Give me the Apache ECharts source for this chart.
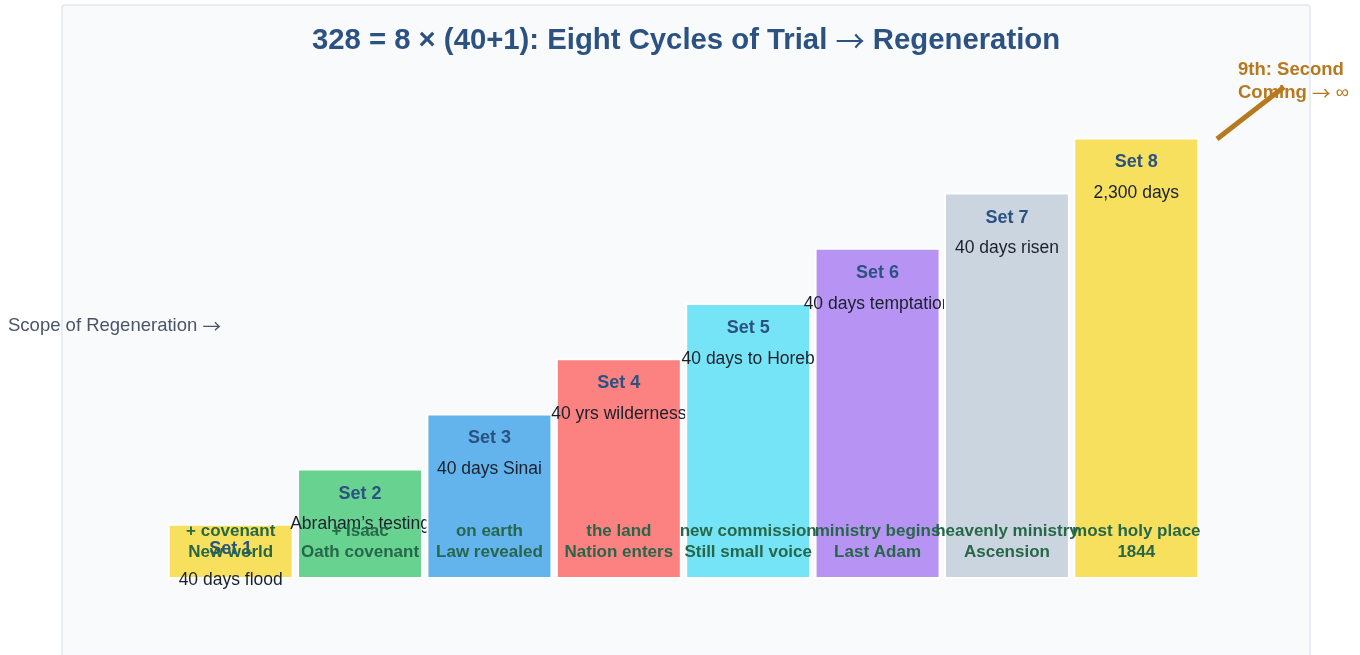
<!DOCTYPE html>
<html>
<head>
<meta charset="utf-8">
<script src="https://cdn.jsdelivr.net/npm/echarts@6/dist/echarts.min.js"></script>
<style>
html,body{margin:0;padding:0;background:#ffffff;}
#chart{width:1360px;height:655px;}
</style>
</head>
<body>
<div id="chart"></div>
<script>
// ---- data ----
const categories = ['Set 1','Set 2','Set 3','Set 4','Set 5','Set 6','Set 7','Set 8'];
const scope = [41, 82, 123, 164, 205, 246, 287, 328];
const trials = ['40 days flood','Abraham\u2019s testing','40 days Sinai','40 yrs wilderness','40 days to Horeb','40 days temptation','40 days risen','2,300 days'];
const regenLine1 = ['+ covenant','+ Isaac','on earth','the land','new commission','ministry begins','heavenly ministry','most holy place'];
const regenLine2 = ['New world','Oath covenant','Law revealed','Nation enters','Still small voice','Last Adam','Ascension','1844'];
const titleLeft = '328 = 8 \u00d7 (40+1): Eight Cycles of Trial ';
const titleRight = ' Regeneration';
const axisLabel = 'Scope of Regeneration ';
const ninthLine1 = '9th: Second';
const ninthLine2 = 'Coming ';

// ---- style ----
const palette = ['#f6e05e','#68d391','#63b3ed','#fc8181','#76e4f7','#b794f4','#cbd5e0','#f6e05e'];
const FONT = '"Liberation Sans", Arial, Helvetica, sans-serif';
const SYM = '"Noto Sans CJK SC", "DejaVu Sans", sans-serif';

const chart = echarts.init(document.getElementById('chart'));

const series = categories.map((c, i) => ({
  type: 'bar',
  name: c,
  zlevel: 1 + i,
  z: 3,
  barWidth: 126,
  barGap: '-100%',
  data: scope.map((v, j) => (j === i ? v : '-')),
  itemStyle: { color: palette[i], borderColor: '#ffffff', borderWidth: 2 },
  label: {
    show: true,
    position: 'insideTop',
    distance: 13,
    formatter: () => '{a|' + c + '}\n{b|' + trials[i] + '}',
    rich: {
      a: { fontFamily: FONT, fontSize: 18, fontWeight: 'bold', color: '#2c5282', lineHeight: 24, align: 'center' },
      b: { fontFamily: FONT, fontSize: 17.5, color: '#1a202c', lineHeight: 38, align: 'center' }
    }
  },
  silent: true,
  animation: false
}));

series.push({
  type: 'bar',
  name: 'regeneration',
  zlevel: 10,
  z: 3,
  barWidth: 126,
  barGap: '-100%',
  data: scope,
  itemStyle: { color: 'rgba(0,0,0,0)', borderWidth: 0 },
  label: {
    show: true,
    position: 'insideBottom',
    distance: 16,
    formatter: (p) => regenLine1[p.dataIndex] + '\n' + regenLine2[p.dataIndex],
    fontFamily: FONT,
    fontSize: 17,
    fontWeight: 'bold',
    color: '#276749',
    lineHeight: 21,
    align: 'center'
  },
  silent: true,
  animation: false
});

chart.setOption({
  animation: false,
  grid: { left: 166, right: 159, top: 27, bottom: 76 },
  xAxis: { type: 'category', data: categories, show: false },
  yAxis: { type: 'value', min: 0, max: 410, show: false },
  graphic: [
    { type: 'rect', z: -10, silent: true,
      shape: { x: 62, y: 5, width: 1248, height: 720, r: 3 },
      style: { fill: '#f8fafc', stroke: '#e2e8f0', lineWidth: 1.5 } },
    { type: 'text', z: 50, silent: true,
      style: { text: '{t|' + titleLeft + '}{s|\u2192}{t|' + titleRight + '}', x: 686, y: 41,
               textAlign: 'center', textVerticalAlign: 'middle',
               rich: {
                 t: { fontFamily: FONT, fontSize: 29.3, fontWeight: 'bold', fill: '#2c5282' },
                 s: { fontFamily: SYM, fontSize: 29.3, fontWeight: 'normal', fill: '#2c5282' }
               } } },
    { type: 'text', z: 50, silent: true,
      style: { text: '{t|' + axisLabel + '}{s|\u2192}', x: 8, y: 326,
               textAlign: 'left', textVerticalAlign: 'middle',
               rich: {
                 t: { fontFamily: FONT, fontSize: 18.5, fill: '#4a5568' },
                 s: { fontFamily: SYM, fontSize: 18.5, fill: '#4a5568' }
               } } },
    { type: 'text', z: 50, silent: true,
      style: { text: '{t|' + ninthLine1 + '}\n{t|' + ninthLine2 + '}{s|\u2192}{i| \u221e}', x: 1238, y: 81,
               textAlign: 'left', textVerticalAlign: 'middle',
               rich: {
                 t: { fontFamily: FONT, fontSize: 18.5, fontWeight: 'bold', fill: '#b7791f', lineHeight: 23 },
                 s: { fontFamily: SYM, fontSize: 18.5, fontWeight: 'normal', fill: '#b7791f', lineHeight: 23 },
                 i: { fontFamily: FONT, fontSize: 18.5, fontWeight: 'normal', fill: '#b7791f', lineHeight: 23 }
               } } },
    { type: 'line', z: 60, silent: true,
      shape: { x1: 1217, y1: 139, x2: 1284, y2: 87 },
      style: { stroke: '#b7791f', lineWidth: 5 } }
  ],
  series: series
});
</script>
</body>
</html>
